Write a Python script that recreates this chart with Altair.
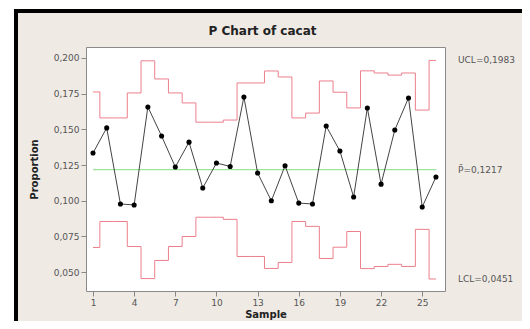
import altair as alt
import pandas as pd

samples = list(range(1, 27))
proportion = [0.1334, 0.1510, 0.0977, 0.0970, 0.1657, 0.1453, 0.1236, 0.1410, 0.1089, 0.1264,
              0.1240, 0.1727, 0.1194, 0.0999, 0.1245, 0.0983, 0.0977, 0.1523, 0.1348, 0.1026,
              0.1650, 0.1116, 0.1495, 0.1720, 0.0956, 0.1166]
ucl = [0.1762, 0.1580, 0.1580, 0.1755, 0.1980, 0.1853, 0.1755, 0.1685, 0.1550, 0.1550,
       0.1565, 0.1825, 0.1825, 0.1909, 0.1867, 0.1580, 0.1614, 0.1839, 0.1760, 0.1650,
       0.1910, 0.1895, 0.1880, 0.1895, 0.1635, 0.1983]
lcl = [0.0672, 0.0854, 0.0854, 0.0679, 0.0454, 0.0581, 0.0679, 0.0749, 0.0884, 0.0884,
       0.0869, 0.0609, 0.0609, 0.0525, 0.0567, 0.0854, 0.0820, 0.0595, 0.0674, 0.0784,
       0.0524, 0.0539, 0.0554, 0.0539, 0.0799, 0.0451]
center = 0.1217
x_ticks = [1, 4, 7, 10, 13, 16, 19, 22, 25]
y_ticks = [0.050, 0.075, 0.100, 0.125, 0.150, 0.175, 0.200]
labels_text = ["UCL=0,1983", "P\u0304=0,1217", "LCL=0,0451"]
labels_val = [0.1983, 0.1217, 0.0451]
title_text = "P Chart of cacat"

df = pd.DataFrame({"sample": samples, "p": proportion, "ucl": ucl, "lcl": lcl})
cl_df = pd.DataFrame({"x": [1], "x2": [26], "y": [center]})
lab_df = pd.DataFrame({"text": labels_text, "y": labels_val})
title_df = pd.DataFrame({"text": [title_text]})

FONT = "DejaVu Sans"
W, H = 359, 244

x_scale = alt.Scale(domain=[0.49, 26.66], nice=False, zero=False)
y_scale = alt.Scale(domain=[0.0367, 0.2077], nice=False, zero=False)

x_axis = alt.Axis(values=x_ticks, title="Sample", grid=False, domain=False,
                  tickSize=5, tickColor="#888", labelColor="#555", labelFontSize=9,
                  labelFont=FONT, labelPadding=2, titleFont=FONT, titleFontSize=10,
                  titleFontWeight="bold", titleColor="#222", titlePadding=2)
y_axis = alt.Axis(values=y_ticks, title="Proportion", grid=False, domain=False,
                  tickSize=5, tickColor="#888", labelColor="#555", labelFontSize=9,
                  labelFont=FONT, labelPadding=2,
                  labelExpr="replace(format(datum.value, '.3f'), '.', ',')",
                  titleFont=FONT, titleFontSize=10, titleFontWeight="bold",
                  titleColor="#222", titlePadding=14)

def X(field):
    return alt.X(field, type="quantitative", scale=x_scale, axis=x_axis)

def Y(field):
    return alt.Y(field, type="quantitative", scale=y_scale, axis=y_axis)

base = alt.Chart(df)

ucl_line = base.mark_line(interpolate="step", color="#ec7f8c", strokeWidth=1).encode(
    x=X("sample"), y=Y("ucl"))
lcl_line = base.mark_line(interpolate="step", color="#ec7f8c", strokeWidth=1).encode(
    x=X("sample"), y=Y("lcl"))
cl_rule = alt.Chart(cl_df).mark_rule(color="#7fdf7f", strokeWidth=1).encode(
    x=X("x"), x2="x2", y=Y("y"))
p_line = base.mark_line(color="#444", strokeWidth=1).encode(x=X("sample"), y=Y("p"))
p_pts = base.mark_circle(color="black", size=26, opacity=1).encode(x=X("sample"), y=Y("p"))

right_labels = alt.Chart(lab_df).mark_text(align="left", baseline="middle", font=FONT,
                                            fontSize=9, color="#555").encode(
    x=alt.value(W + 13), y=Y("y"), text="text:N")

title_mark = alt.Chart(title_df).mark_text(align="center", baseline="middle", font=FONT,
                                           fontSize=12, fontWeight="bold",
                                           color="#222").encode(
    x=alt.value(W / 2 - 3), y=alt.value(-16), text="text:N")

one = alt.Data(values=[{"a": 1}])
white_strip = alt.Chart(one).mark_rect(color="white").encode(
    x=alt.value(-78), x2=alt.value(-72), y=alt.value(-39), y2=alt.value(H + 30))
black_left = alt.Chart(one).mark_rect(color="black").encode(
    x=alt.value(-72), x2=alt.value(-68), y=alt.value(-38), y2=alt.value(H + 30))
black_top = alt.Chart(one).mark_rect(color="black").encode(
    x=alt.value(-72), x2=alt.value(W + 77), y=alt.value(-38), y2=alt.value(-34))
white_top = alt.Chart(one).mark_rect(color="white").encode(
    x=alt.value(-78), x2=alt.value(W + 77), y=alt.value(-39), y2=alt.value(-38))

chart = alt.layer(
    white_strip, white_top, black_left, black_top,
    ucl_line, lcl_line, cl_rule, p_line, p_pts, right_labels, title_mark
).properties(
    width=W, height=H,
    autosize=alt.AutoSizeParams(type="none"),
    padding={"left": 78, "top": 39, "right": 77, "bottom": 30},
    background="#efeae4",
).configure_view(fill="white", stroke="#8a8a8a", strokeWidth=1)

chart.save("out.html", embed_options={"renderer": "svg", "actions": False})
